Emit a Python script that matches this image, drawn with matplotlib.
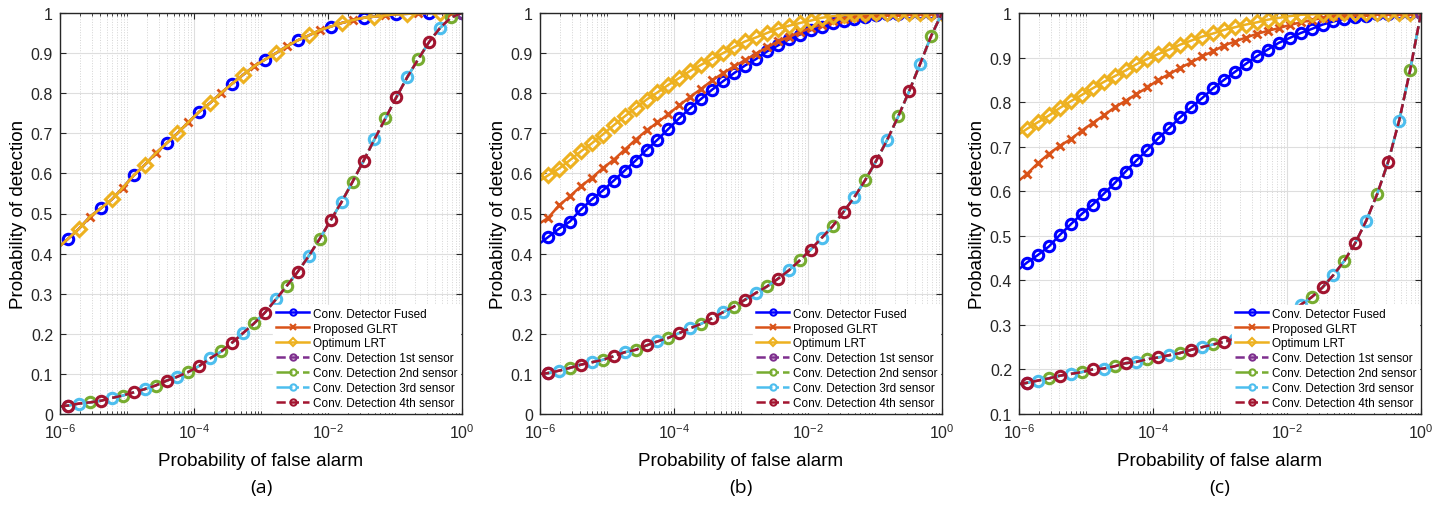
import numpy as np
import matplotlib
matplotlib.use('Agg')
import matplotlib.pyplot as plt
from matplotlib.ticker import FixedLocator, NullFormatter, LogFormatterSciNotation

plt.rcParams['font.family'] = ['Liberation Sans', 'DejaVu Sans']

# log10 of the false-alarm grid: left edge of the axis, then 37 thresholds up to 1
log_pfa = np.r_[-6.0, np.linspace(-5.88, 0.0, 37)]
pfa = 10.0 ** log_pfa

# (a) all three fused detectors lie on top of each other
pd_fused_a = [0.419, 0.437, 0.462, 0.492, 0.513, 0.535, 0.564, 0.595, 0.621, 0.650,
              0.675, 0.700, 0.728, 0.754, 0.776, 0.801, 0.824, 0.846, 0.867, 0.884,
              0.900, 0.917, 0.932, 0.944, 0.957, 0.966, 0.975, 0.982, 0.988, 0.991,
              0.994, 0.997, 0.998, 0.999, 1.0, 1.0, 1.0, 1.0]
pd_glrt_a = pd_fused_a
pd_lrt_a = pd_fused_a
pd_sensor_a = [0.019, 0.021, 0.026, 0.029, 0.033, 0.040, 0.046, 0.054, 0.062, 0.071,
               0.083, 0.093, 0.105, 0.120, 0.139, 0.156, 0.178, 0.202, 0.226, 0.253,
               0.286, 0.320, 0.355, 0.394, 0.437, 0.483, 0.529, 0.579, 0.631, 0.685,
               0.737, 0.790, 0.840, 0.885, 0.928, 0.963, 0.989, 1.0]

# (b)
pd_fused_b = [0.426, 0.441, 0.462, 0.480, 0.510, 0.535, 0.557, 0.582, 0.607, 0.632,
              0.659, 0.684, 0.711, 0.738, 0.763, 0.786, 0.809, 0.830, 0.850, 0.869,
              0.885, 0.904, 0.919, 0.934, 0.946, 0.957, 0.965, 0.975, 0.981, 0.986,
              0.991, 0.994, 0.997, 0.998, 0.999, 1.0, 1.0, 1.0]
pd_glrt_b = [0.476, 0.489, 0.520, 0.543, 0.568, 0.589, 0.613, 0.634, 0.659, 0.684,
             0.707, 0.727, 0.748, 0.770, 0.791, 0.811, 0.832, 0.850, 0.867, 0.882,
             0.899, 0.914, 0.929, 0.940, 0.952, 0.963, 0.971, 0.979, 0.986, 0.990,
             0.993, 0.996, 0.997, 0.998, 0.999, 1.0, 1.0, 1.0]
pd_lrt_b = [0.582, 0.595, 0.612, 0.633, 0.655, 0.675, 0.697, 0.720, 0.742, 0.763,
            0.784, 0.802, 0.821, 0.838, 0.856, 0.871, 0.886, 0.900, 0.915, 0.929,
            0.939, 0.950, 0.961, 0.968, 0.975, 0.981, 0.988, 0.992, 0.994, 0.997,
            0.998, 0.999, 1.0, 1.0, 1.0, 1.0, 1.0, 1.0]
pd_sensor_b = [0.100, 0.102, 0.108, 0.115, 0.123, 0.129, 0.135, 0.144, 0.154, 0.160,
               0.171, 0.181, 0.190, 0.202, 0.214, 0.225, 0.239, 0.254, 0.268, 0.285,
               0.302, 0.318, 0.337, 0.358, 0.383, 0.410, 0.439, 0.468, 0.504, 0.541,
               0.584, 0.632, 0.684, 0.742, 0.805, 0.873, 0.942, 1.0]

# (c)
pd_fused_c = [0.425, 0.440, 0.457, 0.476, 0.502, 0.526, 0.549, 0.570, 0.594, 0.618,
              0.644, 0.669, 0.693, 0.719, 0.742, 0.766, 0.788, 0.809, 0.831, 0.850,
              0.868, 0.886, 0.903, 0.918, 0.933, 0.944, 0.955, 0.964, 0.974, 0.981,
              0.987, 0.991, 0.994, 0.997, 0.998, 0.999, 1.0, 1.0]
pd_glrt_c = [0.624, 0.639, 0.663, 0.684, 0.702, 0.717, 0.736, 0.753, 0.770, 0.788,
             0.803, 0.818, 0.833, 0.850, 0.863, 0.877, 0.889, 0.903, 0.914, 0.927,
             0.936, 0.945, 0.953, 0.960, 0.966, 0.973, 0.979, 0.984, 0.989, 0.993,
             0.996, 0.997, 0.998, 0.999, 1.0, 1.0, 1.0, 1.0]
pd_lrt_c = [0.728, 0.740, 0.755, 0.770, 0.787, 0.802, 0.816, 0.831, 0.845, 0.858,
            0.871, 0.885, 0.897, 0.908, 0.918, 0.929, 0.938, 0.947, 0.954, 0.962,
            0.968, 0.974, 0.979, 0.985, 0.989, 0.993, 0.996, 0.997, 0.998, 0.999,
            1.0, 1.0, 1.0, 1.0, 1.0, 1.0, 1.0, 1.0]
pd_sensor_c = [0.167, 0.170, 0.175, 0.180, 0.186, 0.190, 0.194, 0.200, 0.202, 0.207,
               0.214, 0.217, 0.223, 0.227, 0.232, 0.237, 0.244, 0.250, 0.256, 0.262,
               0.269, 0.277, 0.286, 0.297, 0.310, 0.326, 0.345, 0.362, 0.384, 0.412,
               0.444, 0.484, 0.534, 0.594, 0.666, 0.758, 0.871, 1.0]

panel_labels = ['(a)', '(b)', '(c)']
y_lows = [0.0, 0.0, 0.1]
legend_labels = ['Conv. Detector Fused', 'Proposed GLRT', 'Optimum LRT',
                 'Conv. Detection 1st sensor', 'Conv. Detection 2nd sensor',
                 'Conv. Detection 3rd sensor', 'Conv. Detection 4th sensor']

C_BLUE = '#0000FF'
C_ORANGE = '#D95319'
C_YELLOW = '#EDB120'
C_PURPLE = '#7E2F8E'
C_GREEN = '#77AC30'
C_CYAN = '#4DBEEE'
C_MAROON = '#A2142F'

n = len(pfa)
minor_x = [m * 10.0 ** d for d in range(-6, 0) for m in range(1, 10)
           if not (m == 1 and d % 2 == 0)]

fig = plt.figure(figsize=(14.49, 5.06), dpi=100)
lefts = [60, 540, 1019]

panels = [
    (pd_fused_a, pd_glrt_a, pd_lrt_a, pd_sensor_a, True),
    (pd_fused_b, pd_glrt_b, pd_lrt_b, pd_sensor_b, False),
    (pd_fused_c, pd_glrt_c, pd_lrt_c, pd_sensor_c, False),
]

for i, (fused, glrt, lrt, sensor, sparse) in enumerate(panels):
    ax = fig.add_axes([lefts[i] / 1449, 91 / 506, 402 / 1449, 401 / 506])

    if sparse:
        mk_fused, mk_lrt, mk_glrt = list(range(1, n, 3)), list(range(2, n, 3)), list(range(3, n, 3))
    else:
        mk_fused = mk_lrt = mk_glrt = list(range(1, n))

    ax.plot(pfa, fused, '-', color=C_BLUE, lw=1.8, marker='o', ms=7.5, mew=2.2,
            mfc='none', markevery=mk_fused, label=legend_labels[0])
    ax.plot(pfa, glrt, '-', color=C_ORANGE, lw=1.8, marker='x', ms=5.5, mew=2,
            markevery=mk_glrt, label=legend_labels[1])
    ax.plot(pfa, lrt, '-', color=C_YELLOW, lw=1.8, marker='D', ms=7, mew=2.2,
            mfc='none', markevery=mk_lrt, label=legend_labels[2])

    ax.plot(pfa, sensor, '--', color=C_PURPLE, lw=1.8, marker='o', ms=7.5, mew=2.2,
            mfc='none', markevery=[1, n - 1], label=legend_labels[3])
    ax.plot(pfa, sensor, '-.', color=C_GREEN, lw=1.8, marker='o', ms=7.5, mew=2.2,
            mfc='none', markevery=list(range(3, n - 1, 3)), label=legend_labels[4])
    ax.plot(pfa, sensor, '-.', color=C_CYAN, lw=1.8, marker='o', ms=7.5, mew=2.2,
            mfc='none', markevery=list(range(2, n - 1, 3)), label=legend_labels[5])
    ax.plot(pfa, sensor, '--', color=C_MAROON, lw=1.8, marker='o', ms=7.5, mew=2.2,
            mfc='none', markevery=list(range(1, n - 1, 3)), label=legend_labels[6])

    ax.set_xscale('log')
    ax.set_xlim(1e-6, 1)
    ax.set_ylim(y_lows[i], 1)
    ax.xaxis.set_major_locator(FixedLocator([1e-6, 1e-4, 1e-2, 1]))
    ax.xaxis.set_major_formatter(LogFormatterSciNotation())
    ax.xaxis.set_minor_locator(FixedLocator(minor_x))
    ax.xaxis.set_minor_formatter(NullFormatter())
    yt = np.round(np.arange(y_lows[i], 1.0001, 0.1), 1)
    ax.set_yticks(yt)
    ax.set_yticklabels(['0' if v == 0 else ('1' if v == 1 else f'{v:g}') for v in yt])

    ax.set_axisbelow(True)
    ax.grid(True, which='major', color='#dedede', lw=0.8)
    ax.grid(True, which='minor', axis='x', color='#d4d4d4', lw=0.7, ls=':')
    ax.tick_params(which='both', direction='in', top=True, right=True,
                   colors='#262626', labelsize=11.5)
    ax.tick_params(which='major', length=4)
    ax.tick_params(which='minor', length=2.5)
    ax.tick_params(axis='x', which='major', pad=6)
    ax.tick_params(axis='y', which='major', pad=5)
    for sp in ax.spines.values():
        sp.set_color('#262626')
        sp.set_linewidth(1.0)

    ax.set_xlabel('Probability of false alarm', fontsize=13.5, labelpad=8)
    ax.set_ylabel('Probability of detection', fontsize=13.5, labelpad=3)

    leg = ax.legend(loc='lower right', fontsize=8.5, handlelength=2.8,
                    labelspacing=0.25, borderaxespad=0.15, borderpad=0.25,
                    handletextpad=0.3, fancybox=False, framealpha=1.0,
                    edgecolor='white', facecolor='white')
    for h in leg.legend_handles:
        h.set_markersize(4.5)
        h.set_markeredgewidth(1.5)

    fig.text((lefts[i] + 201) / 1449, 1 - 488 / 506, panel_labels[i],
             ha='center', va='center', fontsize=14, family='Open Sans')

fig.savefig('out.png', dpi=100)
